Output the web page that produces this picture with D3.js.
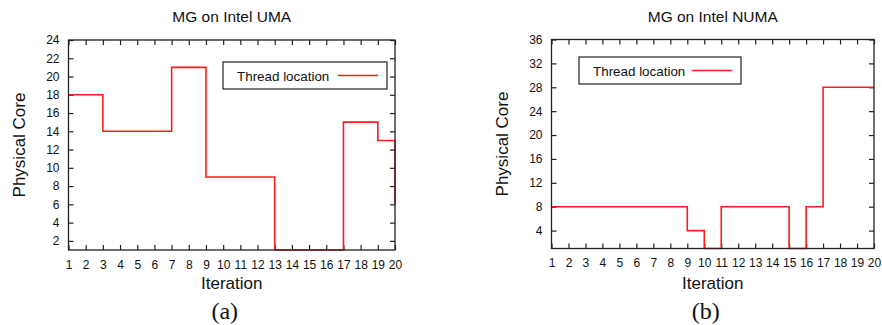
<!DOCTYPE html>
<html>
<head>
<meta charset="utf-8">
<script src="https://cdn.jsdelivr.net/npm/d3@7"></script>
<style>
  body { margin: 0; background: #fff; }
  svg text { font-family: "Liberation Sans", Arial, sans-serif; fill: #111; }
</style>
</head>
<body>
<svg id="chart" width="882" height="325"></svg>
<script>
// iterations 1..20
const iterations = d3.range(1, 21);
// thread location per iteration (steps)
const umaCores = [18, 18, 14, 14, 14, 14, 21, 21, 9, 9, 9, 9, 1, 1, 1, 1, 15, 15, 13, 6];
const numaCores = [8, 8, 8, 8, 8, 8, 8, 8, 4, 1, 8, 8, 8, 8, 1, 8, 28, 28, 28, 28];
const umaTicks = [2, 4, 6, 8, 10, 12, 14, 16, 18, 20, 22, 24];
const numaTicks = [4, 8, 12, 16, 20, 24, 28, 32, 36];

const svg = d3.select('#chart');

const panels = [
  { title: 'MG on Intel UMA', tag: '(a)', values: umaCores, yTicks: umaTicks, yMax: 24,
    left: 68.5, right: 395, top: 40, bottom: 250, legend: { x: 223, y: 62, w: 164, h: 27 } },
  { title: 'MG on Intel NUMA', tag: '(b)', values: numaCores, yTicks: numaTicks, yMax: 36,
    left: 551.5, right: 874, top: 39.5, bottom: 248.5, legend: { x: 579, y: 57, w: 162, h: 27 } }
];

panels.forEach(p => {
  const x = d3.scaleLinear().domain([1, 20]).range([p.left, p.right]);
  const y = d3.scaleLinear().domain([1, p.yMax]).range([p.bottom, p.top]);
  const g = svg.append('g');
  const cx = (p.left + p.right) / 2;

  // inner ticks on all four sides
  const tl = 5;
  g.append('g')
    .attr('transform', `translate(0,${p.bottom})`)
    .call(d3.axisBottom(x).tickValues(iterations).tickSize(-tl).tickPadding(10).tickFormat(d3.format('d')))
    .call(a => a.select('.domain').remove())
    .call(a => a.selectAll('text').style('font-size', '12px'));
  g.append('g')
    .attr('transform', `translate(0,${p.top})`)
    .call(d3.axisTop(x).tickValues(iterations).tickSize(-tl).tickFormat(''))
    .call(a => a.select('.domain').remove());
  g.append('g')
    .attr('transform', `translate(${p.left},0)`)
    .call(d3.axisLeft(y).tickValues(p.yTicks).tickSize(-tl).tickPadding(9))
    .call(a => a.select('.domain').remove())
    .call(a => a.selectAll('text').style('font-size', '12px'));
  g.append('g')
    .attr('transform', `translate(${p.right},0)`)
    .call(d3.axisRight(y).tickValues(p.yTicks).tickSize(-tl).tickFormat(''))
    .call(a => a.select('.domain').remove());
  g.selectAll('.tick line').attr('stroke', '#222').attr('stroke-width', 1.2);

  // step line
  const line = d3.line()
    .x((d, i) => x(iterations[i]))
    .y(d => y(d))
    .curve(d3.curveStepAfter);
  g.append('path')
    .datum(p.values)
    .attr('d', line)
    .attr('fill', 'none')
    .attr('stroke', '#ff1a1a')
    .attr('stroke-width', 1.6);

  // frame
  g.append('rect')
    .attr('x', p.left).attr('y', p.top)
    .attr('width', p.right - p.left).attr('height', p.bottom - p.top)
    .attr('fill', 'none').attr('stroke', '#222').attr('stroke-width', 1.3);

  // legend
  const L = p.legend;
  g.append('rect')
    .attr('x', L.x).attr('y', L.y).attr('width', L.w).attr('height', L.h)
    .attr('fill', '#fff').attr('stroke', '#222').attr('stroke-width', 1.2);
  g.append('text')
    .attr('x', L.x + 14).attr('y', L.y + L.h / 2 + 5)
    .style('font-size', '13.4px')
    .text('Thread location');
  g.append('line')
    .attr('x1', L.x + L.w - 49).attr('x2', L.x + L.w - 9)
    .attr('y1', L.y + L.h / 2).attr('y2', L.y + L.h / 2)
    .attr('stroke', '#ff1a1a').attr('stroke-width', 1.6);

  // titles and labels
  g.append('text')
    .attr('x', cx).attr('y', 22)
    .attr('text-anchor', 'middle')
    .style('font-size', '15.5px')
    .text(p.title);
  g.append('text')
    .attr('x', cx).attr('y', 289)
    .attr('text-anchor', 'middle')
    .style('font-size', '17px')
    .text('Iteration');
  g.append('text')
    .attr('transform', `translate(${p.left - 44},${(p.top + p.bottom) / 2}) rotate(-90)`)
    .attr('text-anchor', 'middle')
    .style('font-size', '17px')
    .text('Physical Core');
  g.append('text')
    .attr('x', cx - 7).attr('y', 319)
    .attr('text-anchor', 'middle')
    .style('font-family', '"Liberation Serif", "Times New Roman", serif')
    .style('font-size', '24px')
    .text(p.tag);
});
</script>
</body>
</html>
